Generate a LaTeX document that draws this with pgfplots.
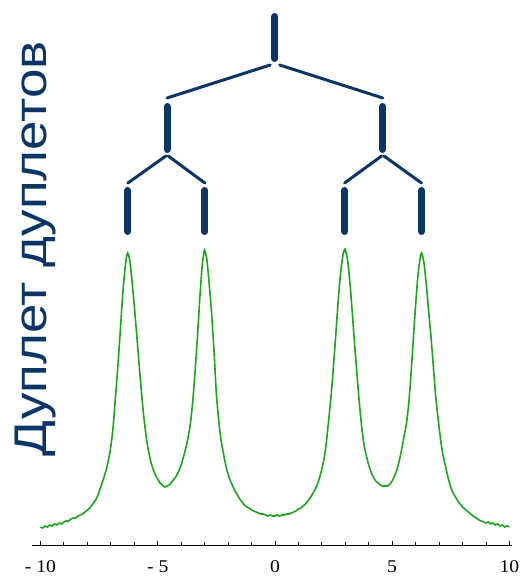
\documentclass[border=0pt]{standalone}
\usepackage{fontspec}
\setmainfont{Liberation Sans}
\newfontfamily\tnr{Liberation Serif}
\usepackage{pgfplots}
\pgfplotsset{compat=1.18}
\definecolor{treeblue}{HTML}{0A3566}
\definecolor{specgreen}{HTML}{1AA61A}
\newcommand{\tl}[1]{\scalebox{1.1}[1]{#1}}
\begin{document}
\begin{tikzpicture}
\path[use as bounding box] (0,0) rectangle (522bp,576bp);
\begin{axis}[
  at={(32bp,31bp)}, anchor=south west,
  scale only axis, width=480bp, height=545bp,
  xmin=-10.36, xmax=10.11, ymin=0, ymax=545,
  axis x line=bottom, axis y line=none,
  x axis line style={-, line width=0.8bp},
  xtick={-10,-5,0,5,10},
  xticklabels={\tl{- 10},\tl{- 5},\tl{0},\tl{5},\tl{10}},
  minor x tick num=4,
  tick align=inside,
  major tick length=4bp, minor tick length=3bp,
  every tick/.style={black, line width=0.8bp},
  xticklabel style={font=\tnr\fontsize{18}{18}\selectfont, yshift=-12bp},
  clip=false,
]
\addplot[specgreen, line width=1.6bp, smooth, tension=0.3] coordinates {
(-10.0,18) (-9.9,17) (-9.8,19) (-9.7,18) (-9.6,20) (-9.5,19) (-9.4,21) (-9.3,20) (-9.2,22) (-9.1,21)
(-9.0,23) (-8.9,24) (-8.8,24) (-8.7,26) (-8.6,27) (-8.5,27) (-8.4,29) (-8.3,30) (-8.2,31) (-8.1,33) (-8.0,35) (-7.9,37) (-7.8,40)
(-7.7,43) (-7.6,47) (-7.5,53) (-7.4,60) (-7.3,67) (-7.2,75) (-7.1,85) (-7.0,98) (-6.9,118) (-6.8,148) (-6.7,178) (-6.6,212)
(-6.5,248) (-6.4,275) (-6.33,288) (-6.28,292) (-6.2,286) (-6.1,265) (-6.0,240) (-5.9,212) (-5.8,183) (-5.7,155) (-5.6,130)
(-5.5,110) (-5.4,95) (-5.3,84) (-5.2,76) (-5.1,70) (-5.0,66) (-4.9,62) (-4.8,60) (-4.7,58) (-4.6,59) (-4.5,60) (-4.4,63)
(-4.3,66) (-4.2,69) (-4.1,74) (-4.0,80) (-3.9,88) (-3.8,97) (-3.7,108) (-3.6,122) (-3.5,145) (-3.4,175) (-3.3,210) (-3.2,248)
(-3.1,280) (-3.0,295) (-2.9,285) (-2.8,260) (-2.7,232) (-2.6,195) (-2.5,152) (-2.4,125) (-2.3,105) (-2.2,92) (-2.1,80)
(-2.0,71) (-1.9,64) (-1.8,59) (-1.7,54) (-1.6,50) (-1.5,46) (-1.4,43) (-1.3,40) (-1.2,38) (-1.1,37) (-1.0,35) (-0.9,34)
(-0.8,33) (-0.7,32) (-0.6,31) (-0.5,31) (-0.4,30) (-0.3,29) (-0.2,30) (-0.1,29) (0.0,29) (0.1,30) (0.2,29) (0.3,30) (0.4,30)
(0.5,31) (0.6,31) (0.7,32) (0.8,33) (0.9,34) (1.0,36) (1.1,37) (1.2,39) (1.3,41) (1.4,44) (1.5,47) (1.6,51) (1.7,55) (1.8,60)
(1.9,67) (2.0,76) (2.1,87) (2.2,104) (2.3,127) (2.4,150) (2.5,180) (2.6,212) (2.7,245) (2.8,272) (2.9,290) (2.99,296)
(3.1,285) (3.2,262) (3.3,232) (3.4,200) (3.5,170) (3.6,142) (3.7,118) (3.8,100) (3.9,89) (4.0,80) (4.1,73) (4.2,68) (4.3,64)
(4.4,62) (4.5,60) (4.6,59) (4.7,59) (4.8,59) (4.9,61) (5.0,64) (5.1,69) (5.2,75) (5.3,84) (5.4,95) (5.5,108) (5.6,120)
(5.7,140) (5.8,170) (5.9,205) (6.0,240) (6.1,270) (6.2,288) (6.26,292) (6.35,283) (6.45,262) (6.55,235) (6.65,210)
(6.75,180) (6.85,150) (6.95,128) (7.05,108) (7.15,92) (7.3,76) (7.4,66) (7.5,58) (7.6,52) (7.7,48) (7.8,44) (7.9,41)
(8.0,38) (8.1,36) (8.2,34) (8.3,32) (8.4,30) (8.5,28) (8.6,27) (8.7,25) (8.8,24) (8.9,23) (9.0,22) (9.1,23) (9.2,21)
(9.3,22) (9.4,20) (9.5,21) (9.6,19) (9.7,20) (9.8,18) (9.9,19) (10.0,18)
};
% splitting tree: bars
\addplot[treeblue, line width=7bp, line cap=round] coordinates {(0,528.5) (0,486.5)};
\addplot[treeblue, line width=7bp, line cap=round] coordinates {(-4.6,438.5) (-4.6,395.5)};
\addplot[treeblue, line width=7bp, line cap=round] coordinates {(4.6,438.5) (4.6,395.5)};
\addplot[treeblue, line width=7bp, line cap=round] coordinates {(-6.27,354.5) (-6.27,313.5)};
\addplot[treeblue, line width=7bp, line cap=round] coordinates {(-2.99,354.5) (-2.99,313.5)};
\addplot[treeblue, line width=7bp, line cap=round] coordinates {(2.97,354.5) (2.97,313.5)};
\addplot[treeblue, line width=7bp, line cap=round] coordinates {(6.25,354.5) (6.25,313.5)};
% splitting tree: branches
\addplot[treeblue, line width=3bp, line cap=round] coordinates {(-0.2,480) (-4.6,447)};
\addplot[treeblue, line width=3bp, line cap=round] coordinates {(0.2,480) (4.6,447)};
\addplot[treeblue, line width=3bp, line cap=round] coordinates {(-4.65,389) (-6.27,362)};
\addplot[treeblue, line width=3bp, line cap=round] coordinates {(-4.55,389) (-2.99,362)};
\addplot[treeblue, line width=3bp, line cap=round] coordinates {(4.55,389) (2.97,362)};
\addplot[treeblue, line width=3bp, line cap=round] coordinates {(4.65,389) (6.25,362)};
\end{axis}
\node[rotate=90, anchor=base, text=treeblue, inner sep=0pt,
  font=\fontsize{46}{50}\selectfont] at (46bp,327bp) {\scalebox{1.155}[1]{Дуплет дуплетов}};
\end{tikzpicture}
\end{document}
